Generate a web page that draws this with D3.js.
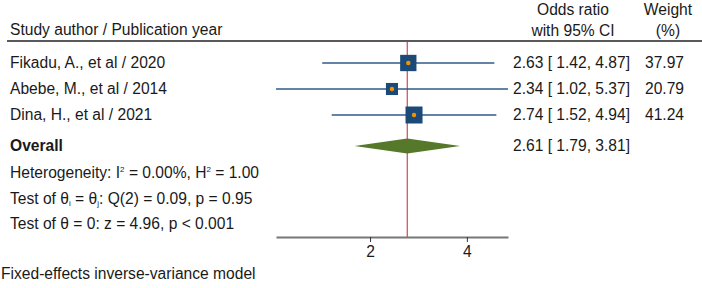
<!DOCTYPE html>
<html>
<head>
<meta charset="utf-8">
<script src="https://cdn.jsdelivr.net/npm/d3@7"></script>
<style>
  body { margin: 0; background: #fff; }
  text { font-family: "Liberation Sans", Arial, sans-serif; fill: #1a1a1a; }
</style>
</head>
<body>
<div id="chart-area"></div>
<script>
// study data
var studies = ["Fikadu, A., et al / 2020", "Abebe, M., et al / 2014", "Dina, H., et al / 2021"];
var oddsRatio = [2.63, 2.34, 2.74];
var lower = [1.42, 1.02, 1.52];
var upper = [4.87, 5.37, 4.94];
var weights = [37.97, 20.79, 41.24];
var overall = {or: 2.61, lo: 1.79, hi: 3.81};
var xTicks = [2, 4];

var width = 702, height = 288;
var fs = 15.6;

var svg = d3.select("#chart-area").append("svg")
    .attr("width", width)
    .attr("height", height);

var x = d3.scaleLog().domain([1.02, 5.37]).range([276, 508]);
var rowY = d3.scaleLinear().domain([0, 1]).range([63, 89]);

var fmt = d3.format(".2f");
var ciText = (o, l, h) => fmt(o) + " [ " + fmt(l) + ",  " + fmt(h) + "]";

// headers
svg.append("text").attr("x", 10).attr("y", 30).attr("dy", "0.35em")
    .style("font-size", fs + "px").text("Study author / Publication year");
svg.append("text").attr("x", 573).attr("y", 10).attr("dy", "0.35em").attr("text-anchor", "middle")
    .style("font-size", fs + "px").text("Odds ratio");
svg.append("text").attr("x", 573).attr("y", 31).attr("dy", "0.35em").attr("text-anchor", "middle")
    .style("font-size", fs + "px").text("with 95% CI");
svg.append("text").attr("x", 668).attr("y", 10).attr("dy", "0.35em").attr("text-anchor", "middle")
    .style("font-size", fs + "px").text("Weight");
svg.append("text").attr("x", 668).attr("y", 31).attr("dy", "0.35em").attr("text-anchor", "middle")
    .style("font-size", fs + "px").text("(%)");
svg.append("line").attr("x1", 7).attr("x2", 702).attr("y1", 41).attr("y2", 41)
    .attr("stroke", "#222").attr("stroke-width", 1.5);

// reference line at overall estimate
svg.append("line")
    .attr("x1", x(overall.or)).attr("x2", x(overall.or))
    .attr("y1", 42).attr("y2", 237)
    .attr("stroke", "#c8203c").attr("stroke-width", 1);

// study rows
var rows = svg.selectAll(".study").data(studies).enter().append("g")
    .attr("class", "study")
    .attr("transform", (d, i) => "translate(0," + rowY(i) + ")");

rows.append("text").attr("x", 10).attr("dy", "0.35em")
    .style("font-size", fs + "px").text(d => d);

rows.append("line")
    .attr("x1", (d, i) => x(lower[i])).attr("x2", (d, i) => x(upper[i]))
    .attr("stroke", "#2f5a8a").attr("stroke-width", 1.5);

var side = d3.scaleSqrt().domain([0, 41.24]).range([0, 17]);
rows.append("rect")
    .attr("x", (d, i) => x(oddsRatio[i]) - side(weights[i]) / 2)
    .attr("y", (d, i) => -side(weights[i]) / 2)
    .attr("width", (d, i) => side(weights[i]))
    .attr("height", (d, i) => side(weights[i]))
    .attr("fill", "#1c4a78");

rows.append("circle")
    .attr("cx", (d, i) => x(oddsRatio[i]))
    .attr("r", 2.2)
    .attr("fill", "#f39200");

rows.append("text").attr("x", 513).attr("dy", "0.35em")
    .style("font-size", fs + "px").text((d, i) => ciText(oddsRatio[i], lower[i], upper[i]));
rows.append("text").attr("x", 684).attr("dy", "0.35em").attr("text-anchor", "end")
    .style("font-size", fs + "px").text((d, i) => fmt(weights[i]));

// overall
var oy = 146;
svg.append("text").attr("x", 10).attr("y", oy).attr("dy", "0.35em")
    .style("font-size", fs + "px").style("font-weight", "bold").text("Overall");
svg.append("path")
    .attr("d", "M" + x(overall.lo) + "," + oy + "L" + x(overall.or) + "," + (oy - 7.5) +
        "L" + x(overall.hi) + "," + oy + "L" + x(overall.or) + "," + (oy + 7.5) + "Z")
    .attr("fill", "#55782a");
svg.append("text").attr("x", 513).attr("y", oy).attr("dy", "0.35em")
    .style("font-size", fs + "px").text(ciText(overall.or, overall.lo, overall.hi));

// heterogeneity notes (baseline given directly, sup/sub shifted in px)
var het = svg.append("text").attr("x", 10).attr("y", 177.5).style("font-size", fs + "px");
het.append("tspan").text("Heterogeneity: I");
het.append("tspan").attr("dy", -6).style("font-size", "8px").text("2");
het.append("tspan").attr("dy", 6).text(" = 0.00%, H");
het.append("tspan").attr("dy", -6).style("font-size", "8px").text("2");
het.append("tspan").attr("dy", 6).text(" = 1.00");

var t1 = svg.append("text").attr("x", 10).attr("y", 203.5).style("font-size", fs + "px");
t1.append("tspan").text("Test of θ");
t1.append("tspan").attr("dy", 2).style("font-size", "8px").text("i");
t1.append("tspan").attr("dy", -2).text(" = θ");
t1.append("tspan").attr("dy", 2).style("font-size", "8px").text("j");
t1.append("tspan").attr("dy", -2).text(": Q(2) = 0.09, p = 0.95");

svg.append("text").attr("x", 10).attr("y", 224).attr("dy", "0.35em")
    .style("font-size", fs + "px").text("Test of θ = 0: z = 4.96, p < 0.001");

// axis
var xAxis = svg.append("g")
    .attr("transform", "translate(0,237)")
    .call(d3.axisBottom(x).tickValues(xTicks).tickFormat(d3.format("d"))
        .tickSizeInner(5).tickSizeOuter(0).tickPadding(4));
xAxis.select(".domain").attr("stroke", "#777").attr("stroke-width", 1.8);
xAxis.selectAll(".tick line").attr("stroke", "#333");
xAxis.selectAll(".tick text").style("font-size", fs + "px").style("font-family", "Liberation Sans, Arial, sans-serif").attr("fill", "#1a1a1a");

svg.append("text").attr("x", 1).attr("y", 274).attr("dy", "0.35em")
    .style("font-size", fs + "px").text("Fixed-effects inverse-variance model");
</script>
</body>
</html>
